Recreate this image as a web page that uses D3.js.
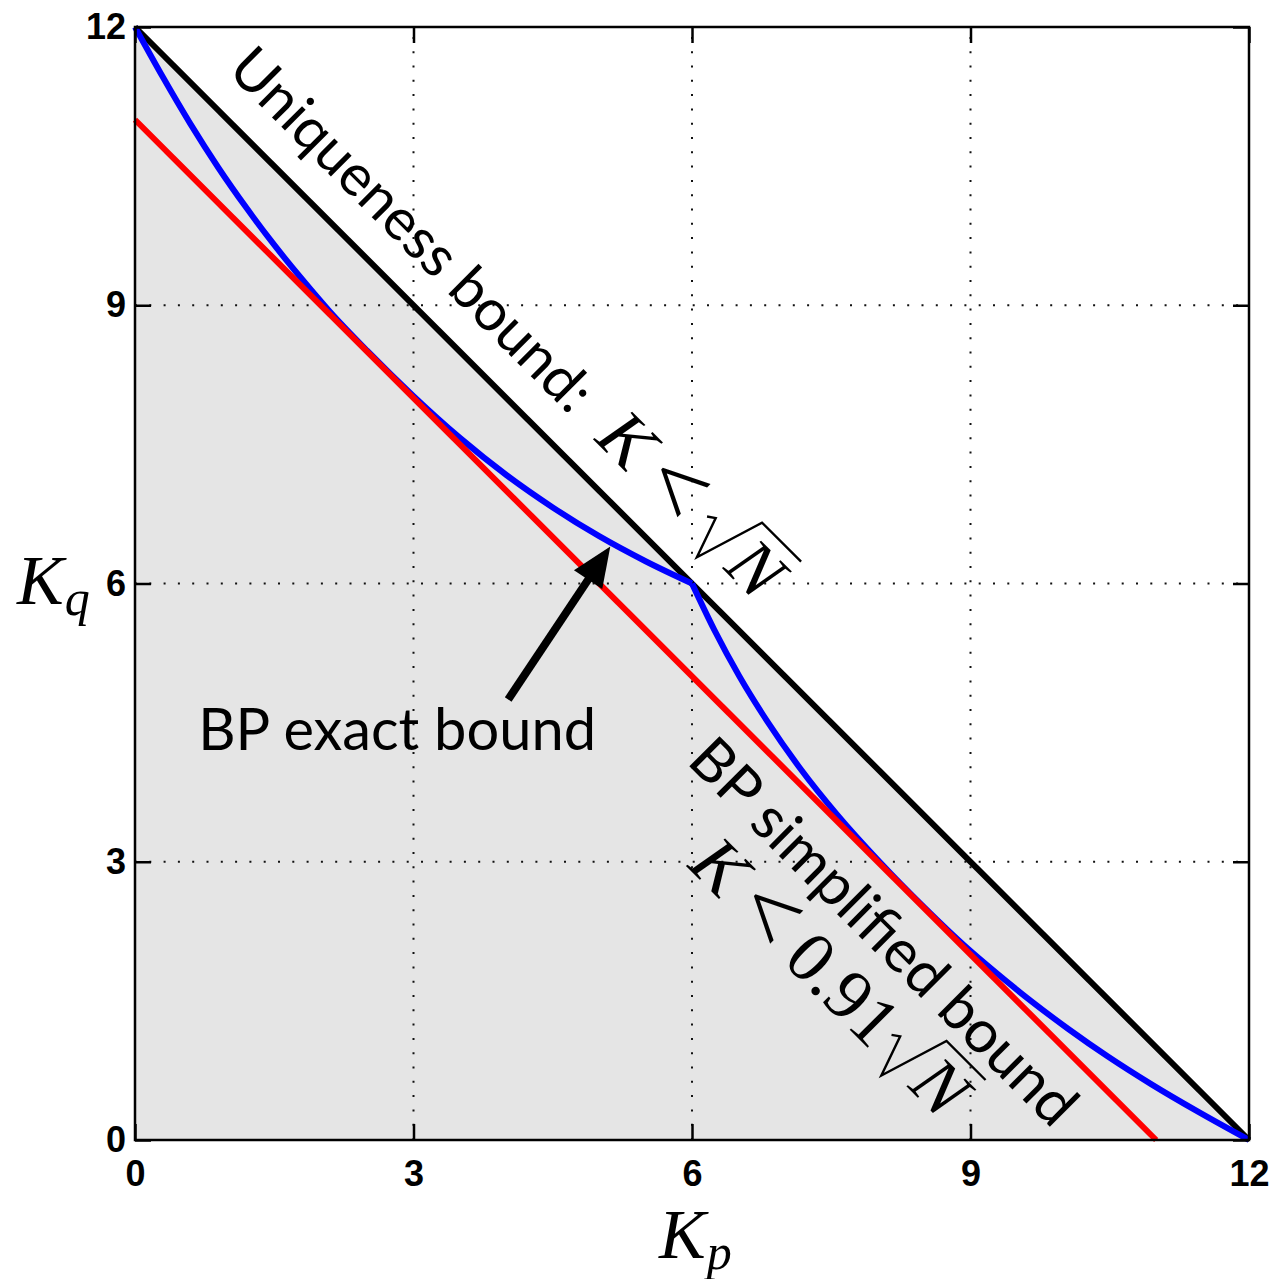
<!DOCTYPE html>
<html>
<head>
<meta charset="utf-8">
<script src="https://cdn.jsdelivr.net/npm/d3@7"></script>
<style>
  body { margin: 0; background: #fff; }
</style>
</head>
<body>
<svg id="canvas"></svg>
<script>
const WIDTH = 1280;
const HEIGHT = 1279;

// axis ticks
const xTicks = [0, 3, 6, 9, 12];
const yTicks = [0, 3, 6, 9, 12];
const gridValues = [3, 6, 9];

// uniqueness bound: Kp + Kq = 12
const uniqueKp = [0, 12];
const uniqueKq = [12, 0];

// BP simplified bound: Kp + Kq = 11
const simpleKp = [0, 11];
const simpleKq = [11, 0];

// BP exact bound (kink at 6,6)
const exactKp = [0, 0.3, 0.6, 0.9, 1.2, 1.5, 1.8, 2.1, 2.5, 3.0, 3.5, 4.0, 4.5, 5.0, 5.5, 6.0,
  6.24, 6.51, 6.82, 7.17, 7.57, 8.02, 8.51, 8.93, 9.28, 9.65, 10.05, 10.48, 10.95, 11.46, 12];
const exactKq = [12, 11.46, 10.95, 10.48, 10.05, 9.65, 9.28, 8.93, 8.51, 8.02, 7.57, 7.17, 6.82, 6.51, 6.24, 6.0,
  5.5, 5.0, 4.5, 4.0, 3.5, 3.0, 2.5, 2.1, 1.8, 1.5, 1.2, 0.9, 0.6, 0.3, 0];

// annotations (data coordinates)
const arrowFrom = [4.02, 4.75];
const arrowTo = [5.12, 6.40];
const exactLabelAt = [0.68, 4.2];
const uniqueLabelAt = [0.98, 11.52];
const uniqueMathAt = [4.94, 7.55];
const simpleLabelAt = [5.93, 4.07];
const simpleMathAt = [5.94, 2.95];

const sansFont = "Lato, 'Open Sans', sans-serif";
const mathFont = "'Liberation Serif', 'DejaVu Serif', serif";
const tickFont = "'Liberation Sans', Arial, sans-serif";

const canvas = d3.select("#canvas").attr("width", WIDTH).attr("height", HEIGHT);

const xScale = d3.scaleLinear().domain([0, 12]).range([135, 1249]);
const yScale = d3.scaleLinear().domain([0, 12]).range([1140, 27]);

// shaded region under the uniqueness bound
canvas.append("path")
  .attr("d", d3.line()([
    [xScale(0), yScale(0)],
    [xScale(uniqueKp[0]), yScale(uniqueKq[0])],
    [xScale(uniqueKp[1]), yScale(uniqueKq[1])]
  ]) + "Z")
  .attr("fill", "#e5e5e5");

// dotted grid
const grid = canvas.append("g");
gridValues.forEach((v) => {
  grid.append("line")
    .attr("x1", xScale(v)).attr("x2", xScale(v))
    .attr("y1", yScale(0)).attr("y2", yScale(12));
  grid.append("line")
    .attr("x1", xScale(0)).attr("x2", xScale(12))
    .attr("y1", yScale(v)).attr("y2", yScale(v));
});
grid.selectAll("line")
  .attr("stroke", "#111")
  .attr("stroke-width", 2)
  .attr("stroke-dasharray", "2,12.3");

const line = d3.line()
  .x((d) => xScale(d[0]))
  .y((d) => yScale(d[1]));

const uniquePts = uniqueKp.map((k, i) => [k, uniqueKq[i]]);
const simplePts = simpleKp.map((k, i) => [k, simpleKq[i]]);
const exactPts = exactKp.map((k, i) => [k, exactKq[i]]);

const LW = 6;
canvas.append("path").attr("d", line(uniquePts))
  .attr("fill", "none").attr("stroke", "#000").attr("stroke-width", LW);

const curve = d3.line().x((d) => xScale(d[0])).y((d) => yScale(d[1])).curve(d3.curveMonotoneX);
canvas.append("path").attr("d", curve(exactPts.slice(0, 16)))
  .attr("fill", "none").attr("stroke", "#0000ff").attr("stroke-width", LW);
canvas.append("path").attr("d", curve(exactPts.slice(15)))
  .attr("fill", "none").attr("stroke", "#0000ff").attr("stroke-width", LW);

canvas.append("path").attr("d", line(simplePts))
  .attr("fill", "none").attr("stroke", "#ff0000").attr("stroke-width", LW);

// axes with inward ticks on all four sides
const tickLen = 16;
const drawAxis = (axis, transform, labels) => {
  const g = canvas.append("g").attr("transform", transform).call(axis);
  g.select(".domain").remove();
  g.selectAll(".tick line").attr("stroke", "#000").attr("stroke-width", 2.5);
  g.selectAll(".tick text")
    .attr("fill", "#000")
    .style("font-family", tickFont)
    .style("font-weight", "bold")
    .style("font-size", "36px");
  if (!labels) g.selectAll(".tick text").remove();
  return g;
};

drawAxis(d3.axisBottom(xScale).tickValues(xTicks).tickSize(-tickLen).tickPadding(20),
  `translate(0,${yScale(0)})`, true);
drawAxis(d3.axisTop(xScale).tickValues(xTicks).tickSize(-tickLen),
  `translate(0,${yScale(12)})`, false);
drawAxis(d3.axisLeft(yScale).tickValues(yTicks).tickSize(-tickLen).tickPadding(9),
  `translate(${xScale(0)},0)`, true);
drawAxis(d3.axisRight(yScale).tickValues(yTicks).tickSize(-tickLen),
  `translate(${xScale(12)},0)`, false);

canvas.append("rect")
  .attr("x", xScale(0)).attr("y", yScale(12))
  .attr("width", xScale(12) - xScale(0))
  .attr("height", yScale(0) - yScale(12))
  .attr("fill", "none").attr("stroke", "#000").attr("stroke-width", 2.5);

// axis titles
const titleSize = 70;
const subSize = 50;
const axisTitle = (x, y, main, sub) => {
  const t = canvas.append("text")
    .attr("x", x).attr("y", y)
    .style("font-family", mathFont)
    .style("font-style", "italic")
    .style("font-size", titleSize + "px");
  t.append("tspan").text(main);
  t.append("tspan").attr("dy", 11).attr("dx", 1).style("font-size", subSize + "px").text(sub);
};
axisTitle(659, 1258, "K", "p");
axisTitle(17, 604, "K", "q");

// sans label size fitted to the reference width of "BP exact bound"
const probe = canvas.append("text").style("font-family", sansFont).style("font-size", "60px").text("BP exact bound");
const sansSize = 60 * 398 / probe.node().getComputedTextLength();
probe.remove();

canvas.append("text")
  .attr("x", xScale(exactLabelAt[0])).attr("y", yScale(exactLabelAt[1]))
  .style("font-family", sansFont).style("font-size", sansSize + "px")
  .attr("fill", "#000")
  .text("BP exact bound");

// arrow
const ax0 = xScale(arrowFrom[0]), ay0 = yScale(arrowFrom[1]);
const ax1 = xScale(arrowTo[0]), ay1 = yScale(arrowTo[1]);
const ang = Math.atan2(ay1 - ay0, ax1 - ax0);
const headLen = 40, headHalf = 17;
const bx = ax1 - headLen * Math.cos(ang), by = ay1 - headLen * Math.sin(ang);
canvas.append("line")
  .attr("x1", ax0).attr("y1", ay0).attr("x2", bx + 4 * Math.cos(ang)).attr("y2", by + 4 * Math.sin(ang))
  .attr("stroke", "#000").attr("stroke-width", 8);
canvas.append("path")
  .attr("d", `M${ax1},${ay1} L${bx - headHalf * Math.sin(ang)},${by + headHalf * Math.cos(ang)} L${bx + headHalf * Math.sin(ang)},${by - headHalf * Math.cos(ang)} Z`)
  .attr("fill", "#000");

// rotated annotations
const rotated = (at) => canvas.append("g")
  .attr("transform", `translate(${xScale(at[0])},${yScale(at[1])}) rotate(45)`);

const mathRun = (g, parts, fs) => {
  let x = 0;
  parts.forEach((p) => {
    x += (p.gap || 0) * fs;
    if (p.sqrt) {
      const rx = x;
      const t = g.append("text").attr("x", rx + 0.66 * fs).attr("y", 0)
        .style("font-family", mathFont).style("font-style", "italic")
        .style("font-size", fs + "px").text(p.sqrt);
      const w = t.node().getComputedTextLength();
      g.append("path")
        .attr("d", `M${rx},${-0.36 * fs} L${rx + 0.1 * fs},${-0.43 * fs} L${rx + 0.3 * fs},${0.14 * fs} L${rx + 0.6 * fs},${-0.84 * fs} H${rx + 0.7 * fs + w}`)
        .attr("fill", "none").attr("stroke", "#000").attr("stroke-width", 2.4)
        .attr("stroke-linejoin", "miter");
      x = rx + 0.66 * fs + w;
    } else {
      const size = fs * (p.scale || 1);
      const t = g.append("text").attr("x", x).attr("y", p.dy ? p.dy * fs : 0)
        .style("font-family", mathFont)
        .style("font-style", p.italic ? "italic" : "normal")
        .style("font-size", size + "px").text(p.text);
      x += t.node().getComputedTextLength();
    }
  });
};

const mathSize = 72;
rotated(uniqueLabelAt).append("text")
  .style("font-family", sansFont).style("font-size", sansSize + "px")
  .text("Uniqueness bound:");
mathRun(rotated(uniqueMathAt), [
  { text: "K", italic: true },
  { text: "<", gap: 0.22, scale: 1.35, dy: 0.06 },
  { sqrt: "N", gap: 0.22 }
], mathSize);

rotated(simpleLabelAt).append("text")
  .style("font-family", sansFont).style("font-size", (sansSize * 1.03) + "px")
  .text("BP simplified bound");
mathRun(rotated(simpleMathAt), [
  { text: "K", italic: true },
  { text: "<", gap: 0.22, scale: 1.35, dy: 0.06 },
  { text: "0.91", gap: 0.22 },
  { sqrt: "N", gap: 0.05 }
], mathSize);
</script>
</body>
</html>
